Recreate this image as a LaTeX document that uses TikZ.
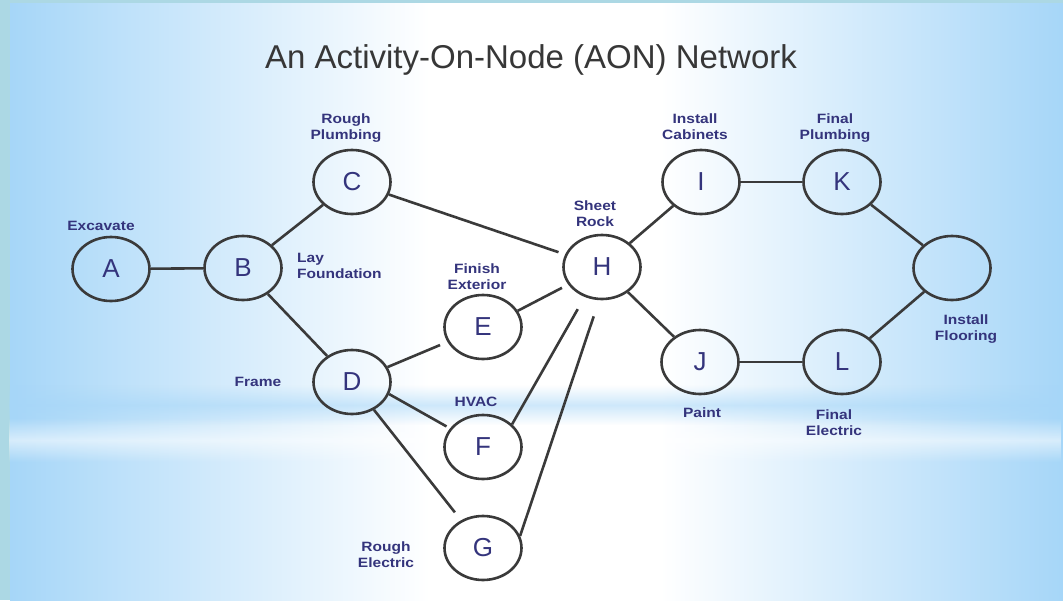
\documentclass[tikz,border=0pt]{standalone}
\usepackage{fontspec}
\setmainfont{Liberation Sans}
\usepackage{graphicx}
\usetikzlibrary{shapes.geometric, fadings}

\definecolor{navy}{RGB}{52,52,124}
\definecolor{inkgray}{RGB}{58,58,58}
\definecolor{titlegray}{RGB}{55,55,55}
\definecolor{skyside}{RGB}{166,214,248}
\definecolor{framestrip}{RGB}{172,216,228}

% soft-edged horizontal streak
\tikzfading[name=streak, top color=transparent!100, bottom color=transparent!100,
  middle color=transparent!45]

% slightly widened bold label text
\newcommand\wide[1]{\scalebox{1.15}[1]{#1}}

\tikzset{
  act/.style={ellipse, draw=inkgray, line width=2.6pt,
    minimum width=77pt, minimum height=64pt, inner sep=0pt,
    font=\fontsize{26}{28}\selectfont, text=navy},
  tag/.style={font=\fontsize{13.5}{16}\selectfont\bfseries, text=navy,
    inner sep=0pt, align=center},
  link/.style={draw=inkgray, line width=2.6pt},
}

\begin{document}
\begin{tikzpicture}[x=1pt, y=-1pt]
  \useasboundingbox (0,0) rectangle (1063,600);

  % backdrop
  \fill[framestrip] (0,0) rectangle (1063,600);
  \shade[left color=skyside, right color=white] (10,3) rectangle (430,600);
  \fill[white] (430,3) rectangle (660,600);
  \shade[left color=white, right color=skyside] (660,3) rectangle (1063,600);
  % soft horizontal streaks across the lower middle
  \fill[skyside, path fading=streak] (10,385) rectangle (1063,425);
  \fill[white, path fading=streak] (10,418) rectangle (1063,462);

  % title
  \node[font=\fontsize{33}{36}\selectfont, text=titlegray] (title) at (531,60)
    {An Activity-On-Node (AON) Network};

  % activities
  \node[act] (A) at (111,269) {A};
  \node[act] (B) at (243,268) {B};
  \node[act] (C) at (352,182) {C};
  \node[act] (D) at (352,382) {D};
  \node[act] (E) at (483,327) {E};
  \node[act] (F) at (483,447) {F};
  \node[act] (G) at (483,548) {G};
  \node[act] (H) at (602,267) {H};
  \node[act] (I) at (701,182) {I};
  \node[act] (J) at (700,362) {J};
  \node[act] (K) at (842,182) {K};
  \node[act] (L) at (842,362) {L};
  \node[act] (M) at (952,268) {};

  % activity descriptions
  \node[tag] (tA) at (101,226) {\wide{Excavate}};
  \node[tag] (tC) at (346,128) {\wide{Rough}\\\wide{Plumbing}};
  \node[tag, anchor=west, align=left] (tB) at (297,266) {\wide{Lay}\\\wide{Foundation}};
  \node[tag] (tD) at (258,382) {\wide{Frame}};
  \node[tag] (tE) at (477,277) {\wide{Finish}\\\wide{Exterior}};
  \node[tag] (tF) at (476,402) {\wide{HVAC}};
  \node[tag] (tG) at (386,555) {\wide{Rough}\\\wide{Electric}};
  \node[tag] (tH) at (595,214) {\wide{Sheet}\\\wide{Rock}};
  \node[tag] (tI) at (695,127) {\wide{Install}\\\wide{Cabinets}};
  \node[tag] (tK) at (835,128) {\wide{Final}\\\wide{Plumbing}};
  \node[tag] (tM) at (966,329) {\wide{Install}\\\wide{Flooring}};
  \node[tag] (tJ) at (702,413) {\wide{Paint}};
  \node[tag] (tL) at (834,423) {\wide{Final}\\\wide{Electric}};

  % precedence links
  \draw[link] (A) -- (B);
  \draw[link] (B) -- (C);
  \draw[link] (B) -- (D);
  \draw[link, shorten >=7pt] (C) -- (H);
  \draw[link, shorten >=8pt] (D) -- (E);
  \draw[link, shorten >=4pt] (D.-18) -- (F);
  \draw[link, shorten >=10pt] (D) -- (G);
  \draw[link, shorten >=7pt] (E.25) -- (H);
  \draw[link, shorten >=14pt] (F.38) -- (H.240);
  \draw[link, shorten >=17pt] (G.18) -- (H.265);
  \draw[link] (H) -- (I);
  \draw[link] (H) -- (J);
  \draw[link] (I) -- (K);
  \draw[link] (J) -- (L);
  \draw[link] (K) -- (M);
  \draw[link] (L) -- (M);
\end{tikzpicture}
\end{document}
